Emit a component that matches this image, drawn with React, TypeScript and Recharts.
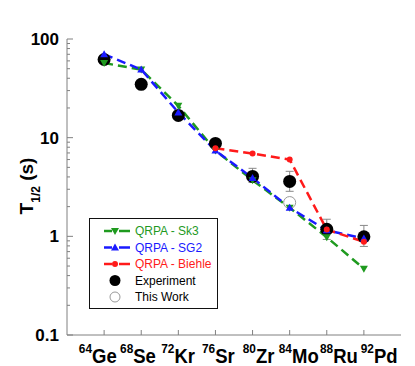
import React from 'react';
import { ComposedChart, Line, Scatter, XAxis, YAxis, ErrorBar, Legend } from 'recharts';

const masses = [64, 68, 72, 76, 80, 84, 88, 92];
const elements = ['Ge', 'Se', 'Kr', 'Sr', 'Zr', 'Mo', 'Ru', 'Pd'];
const sk3 = [57, 49, 21, 7.4, 3.7, 1.95, 0.98, 0.47];
const sg2 = [70, 49, 18, 7.4, 3.9, 1.95, 1.15, 0.95];
const biehle = [null, null, null, 7.8, 6.9, 6.0, 1.17, 0.88];
const experiment = [62, 34.7, 16.8, 8.75, 4.05, 3.6, 1.18, 0.99];
const expErrLow = [0, 0, 0, 0, 0.53, 0.74, 0.25, 0.2];
const expErrHigh = [0, 0, 0, 0, 0.84, 0.96, 0.31, 0.3];
const thisWorkMass = [84];
const thisWork = [2.2];
const yMajorTicks = [0.1, 1, 10, 100];
const yAllTicks = [0.1, 0.2, 0.3, 0.4, 0.5, 0.6, 0.7, 0.8, 0.9, 1, 2, 3, 4, 5, 6, 7, 8, 9, 10, 20, 30, 40, 50, 60, 70, 80, 90, 100];
const yTickLabels = ['0.1', '1', '10', '100'];

const GREEN = '#1f9a1f';
const BLUE = '#1a1aff';
const RED = '#ff1a1a';
const AXIS = '#808080';
const FONT = 'Liberation Sans, Arial, Helvetica, sans-serif';

const lineData = masses.map((m, i) => ({ mass: m, sk3: sk3[i], sg2: sg2[i], biehle: biehle[i] }));
const expData = masses.map((m, i) => ({ mass: m, exp: experiment[i], expErr: [expErrLow[i], expErrHigh[i]] }));
const thisWorkData = thisWorkMass.map((m, i) => ({ mass: m, tw: thisWork[i] }));

const isMajor = (v: number) => yMajorTicks.some((t) => Math.abs(t - v) < 1e-9);

const LeftTick = (props: any) => {
  const { x, y, payload } = props;
  const v = payload.value;
  const major = isMajor(v);
  const idx = yMajorTicks.findIndex((t) => Math.abs(t - v) < 1e-9);
  return (
    <g>
      <line x1={x} x2={x + (major ? 6 : 3)} y1={y} y2={y} stroke={AXIS} strokeWidth={1} />
      {major && (
        <text x={x - 8} y={y} dy="0.36em" textAnchor="end" fontFamily={FONT} fontWeight="bold" fontSize={17} fill="#000">
          {yTickLabels[idx]}
        </text>
      )}
    </g>
  );
};

const RightTick = (props: any) => {
  const { x, y, payload } = props;
  const major = isMajor(payload.value);
  return <line x1={x} x2={x - (major ? 6 : 3)} y1={y} y2={y} stroke={AXIS} strokeWidth={1} />;
};

// labels are spread a little wider than the ticks, around the centre of the tick row
const LABEL_CENTER = 226.7;
const LABEL_SPREAD = 1.083;

const BottomTick = (props: any) => {
  const { x, y, payload } = props;
  const i = masses.indexOf(payload.value);
  const lx = LABEL_CENTER + 4.5 + (x - LABEL_CENTER) * LABEL_SPREAD;
  return (
    <g>
      <line x1={x} x2={x} y1={y} y2={y - 5} stroke={AXIS} strokeWidth={1} />
      <g transform={`translate(${lx},${y + 28}) scale(0.95,1)`}>
        <text x={0} y={0} textAnchor="middle" fontFamily={FONT} fontWeight="bold" fill="#000">
          <tspan fontSize={12.5} dy={-10}>{masses[i]}</tspan>
          <tspan fontSize={19.5} dy={10}>{elements[i]}</tspan>
        </text>
      </g>
    </g>
  );
};

const TopTick = (props: any) => {
  const { x, y } = props;
  return <line x1={x} x2={x} y1={y} y2={y + 6} stroke={AXIS} strokeWidth={1} />;
};

const DownTri = (props: any) => {
  const { cx, cy, index } = props;
  if (cx == null || cy == null || isNaN(cy)) return <g key={'dt' + index} />;
  return <path key={'dt' + index} d={`M${cx - 4},${cy - 3} L${cx + 4},${cy - 3} L${cx},${cy + 4} Z`} fill={GREEN} />;
};
const UpTri = (props: any) => {
  const { cx, cy, index } = props;
  if (cx == null || cy == null || isNaN(cy)) return <g key={'ut' + index} />;
  return <path key={'ut' + index} d={`M${cx - 4},${cy + 3} L${cx + 4},${cy + 3} L${cx},${cy - 4} Z`} fill={BLUE} />;
};
const RedDot = (props: any) => {
  const { cx, cy, index } = props;
  if (cx == null || cy == null || isNaN(cy)) return <g key={'rd' + index} />;
  return <circle key={'rd' + index} cx={cx} cy={cy} r={3} fill={RED} />;
};

const BlackCircle = (props: any) => {
  const { cx, cy } = props;
  return <circle cx={cx} cy={cy} r={6.5} fill="#000" />;
};
const OpenCircle = (props: any) => {
  const { cx, cy } = props;
  return <circle cx={cx} cy={cy} r={6} fill="#fff" stroke="#999" strokeWidth={1} />;
};

const YLabel = () => (
  <text x={25} y={178} transform="rotate(-90, 25, 178)" textAnchor="middle" fontFamily={FONT} fontWeight="bold" fontSize={19} fill="#000">
    T<tspan fontSize={12} dy={7}>1/2</tspan>
    <tspan fontSize={19} dy={-7}> (s)</tspan>
  </text>
);

const legendRows = [
  { label: 'QRPA - Sk3', color: GREEN, kind: 'down' },
  { label: 'QRPA - SG2', color: BLUE, kind: 'up' },
  { label: 'QRPA - Biehle', color: RED, kind: 'dot' },
  { label: 'Experiment', color: '#000', kind: 'exp' },
  { label: 'This Work', color: '#000', kind: 'tw' },
];

const LegendBox = () => (
  <div style={{ width: 129, height: 91, border: '1.5px solid #111', boxSizing: 'border-box', background: '#fff' }}>
    <svg width={127} height={88} style={{ display: 'block' }}>
      {legendRows.map((r, i) => {
        const y = 12 + i * 16.5;
        const mx = 25;
        let marker: any = null;
        if (r.kind === 'down') marker = <path d={`M${mx - 4},${y - 3} L${mx + 4},${y - 3} L${mx},${y + 4} Z`} fill={r.color} />;
        if (r.kind === 'up') marker = <path d={`M${mx - 4},${y + 3} L${mx + 4},${y + 3} L${mx},${y - 4} Z`} fill={r.color} />;
        if (r.kind === 'dot') marker = <circle cx={mx} cy={y} r={3} fill={r.color} />;
        if (r.kind === 'exp') marker = <circle cx={mx} cy={y} r={5.5} fill="#000" />;
        if (r.kind === 'tw') marker = <circle cx={mx} cy={y} r={5} fill="#fff" stroke="#999" strokeWidth={1} />;
        const hasLine = r.kind === 'down' || r.kind === 'up' || r.kind === 'dot';
        return (
          <g key={r.label}>
            {hasLine && <line x1={14} x2={22} y1={y} y2={y} stroke={r.color} strokeWidth={2.5} />}
            {hasLine && <line x1={29} x2={40} y1={y} y2={y} stroke={r.color} strokeWidth={2.5} />}
            {marker}
            <text x={45} y={y} dy="0.36em" fontFamily={FONT} fontSize={12} fill={r.color}>{r.label}</text>
          </g>
        );
      })}
    </svg>
  </div>
);

export default function App() {
  return (
    <div style={{ width: 407, height: 358 }}>
      <ComposedChart width={407} height={358} data={lineData} margin={{ top: 31, right: 14, bottom: 0, left: 0 }}>
        <XAxis
          dataKey="mass"
          type="number"
          domain={[60, 96]}
          ticks={masses}
          allowDataOverflow
          stroke={AXIS}
          tickLine={false}
          tickSize={0}
          tickMargin={0}
          height={31}
          tick={<BottomTick />}
          interval={0}
        />
        <XAxis
          xAxisId="t"
          dataKey="mass"
          type="number"
          orientation="top"
          domain={[60, 96]}
          ticks={masses}
          allowDataOverflow
          stroke={AXIS}
          tickLine={false}
          tickSize={0}
          tickMargin={0}
          height={0}
          tick={<TopTick />}
          interval={0}
        />
        <YAxis
          type="number"
          scale="log"
          domain={[0.1, 100]}
          ticks={yAllTicks}
          allowDataOverflow
          stroke={AXIS}
          tickLine={false}
          tickSize={0}
          tickMargin={0}
          width={59}
          tick={<LeftTick />}
          interval={0}
          label={<YLabel />}
        />
        <YAxis
          yAxisId="r"
          orientation="right"
          type="number"
          scale="log"
          domain={[0.1, 100]}
          ticks={yAllTicks}
          allowDataOverflow
          stroke={AXIS}
          tickLine={false}
          tickSize={0}
          tickMargin={0}
          width={0}
          tick={<RightTick />}
          interval={0}
        />
        <Legend
          layout="horizontal"
          verticalAlign="middle"
          align="center"
          content={() => <LegendBox />}
          wrapperStyle={{ position: 'absolute', left: 81, top: 210, width: 129, height: 91 }}
        />
        <Line dataKey="sk3" stroke={GREEN} strokeWidth={2.5} strokeDasharray="9 5" dot={DownTri} activeDot={false} isAnimationActive={false} />
        <Line dataKey="sg2" stroke={BLUE} strokeWidth={2.5} strokeDasharray="9 5" dot={UpTri} activeDot={false} isAnimationActive={false} />
        <Line dataKey="biehle" stroke={RED} strokeWidth={2.5} strokeDasharray="9 5" dot={RedDot} activeDot={false} isAnimationActive={false} />
        <Scatter data={thisWorkData} dataKey="tw" shape={<OpenCircle />} isAnimationActive={false} />
        <Scatter data={expData} dataKey="exp" shape={<BlackCircle />} isAnimationActive={false}>
          <ErrorBar dataKey="expErr" direction="y" width={4} stroke="#888" strokeWidth={1} />
        </Scatter>
      </ComposedChart>
    </div>
  );
}
